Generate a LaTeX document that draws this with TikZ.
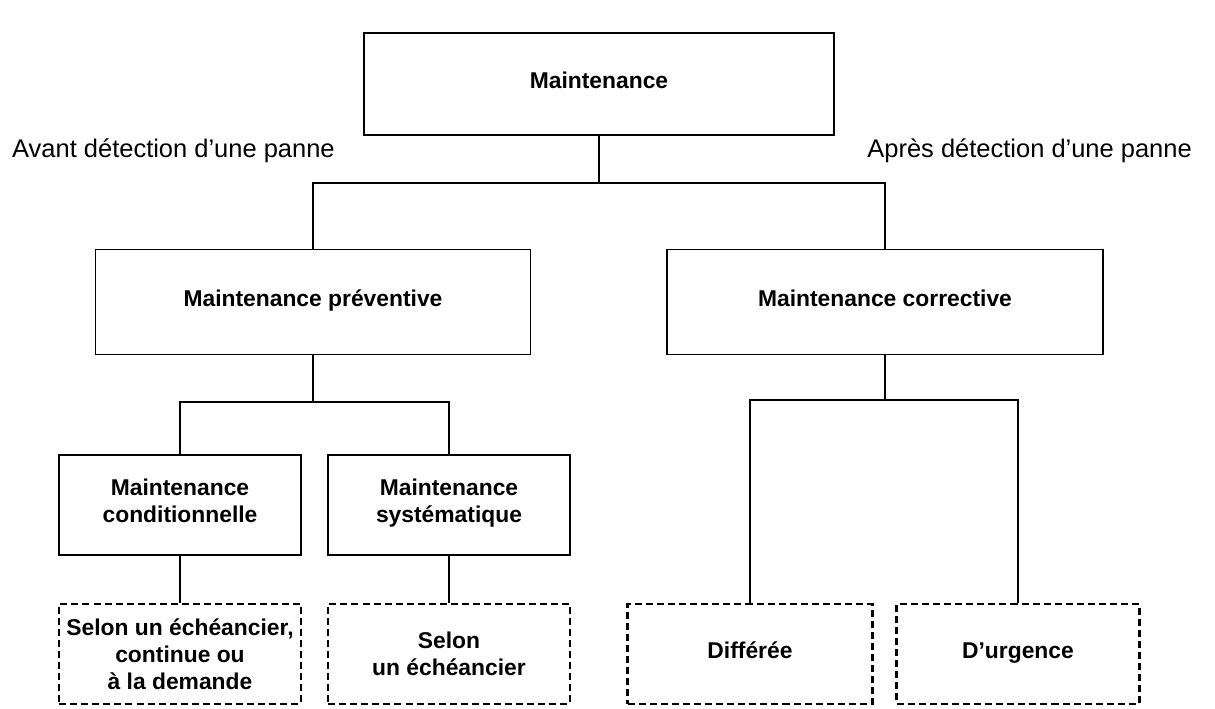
\documentclass[tikz,border=0pt]{standalone}
\usepackage{fontspec}
\setmainfont{Liberation Sans}
\tikzset{
  box/.style={draw,line width=1pt,minimum height=2cm,align=center,font=\fontsize{13}{15.5}\selectfont\bfseries},
  dashbox/.style={box,line width=1.3pt,dash pattern=on 4pt off 2.3pt},
  oneline/.style={text height=0.7em,text depth=0.15em},
  link/.style={line width=1pt}
}
\begin{document}
\begin{tikzpicture}[x=0.02cm,y=-0.02cm]
  \useasboundingbox (0,0) rectangle (1215,709);
  \node[box,oneline,minimum width=9.4cm,minimum height=2.04cm] (main) at (599,84) {Maintenance};
  \node[anchor=west,oneline,font=\fontsize{14.5}{17}\selectfont] (avant) at (6,153) {Avant détection d'une panne};
  \node[anchor=east,oneline,font=\fontsize{14.5}{17}\selectfont] (apres) at (1198,153) {Après détection d'une panne};
  \node[box,oneline,minimum width=8.7cm,minimum height=2.1cm] (prev) at (313,302) {Maintenance préventive};
  \node[box,oneline,minimum width=8.72cm,minimum height=2.1cm] (corr) at (885,302) {Maintenance corrective};
  \node[box,minimum width=4.84cm] (cond) at (180,505) {Maintenance\\conditionnelle\strut};
  \node[box,minimum width=4.84cm] (syst) at (449,505) {Maintenance\\systématique\strut};
  \node[dashbox,minimum width=4.84cm] (sel1) at (180,654) {Selon un échéancier,\\continue ou\\à la demande};
  \node[dashbox,minimum width=4.84cm] (sel2) at (449,654) {Selon\\un échéancier};
  \node[dashbox,oneline,minimum width=4.9cm] (diff) at (750,654) {Différée};
  \node[dashbox,oneline,minimum width=4.86cm] (urg) at (1018,654) {D'urgence};
  % junctions
  \coordinate (jmain) at (599,183);
  \coordinate (jprev) at (313,402);
  \coordinate (jcorr) at (885,400);
  \draw[link] (main.south) -- (jmain);
  \draw[link] (prev.north) |- (jmain) -| (corr.north);
  \draw[link] (prev.south) -- (jprev);
  \draw[link] (cond.north) |- (jprev) -| (syst.north);
  \draw[link] (corr.south) -- (jcorr);
  \draw[link] (diff.north) |- (jcorr) -| (urg.north);
  \draw[link] (cond.south) -- (sel1.north);
  \draw[link] (syst.south) -- (sel2.north);
\end{tikzpicture}
\end{document}
